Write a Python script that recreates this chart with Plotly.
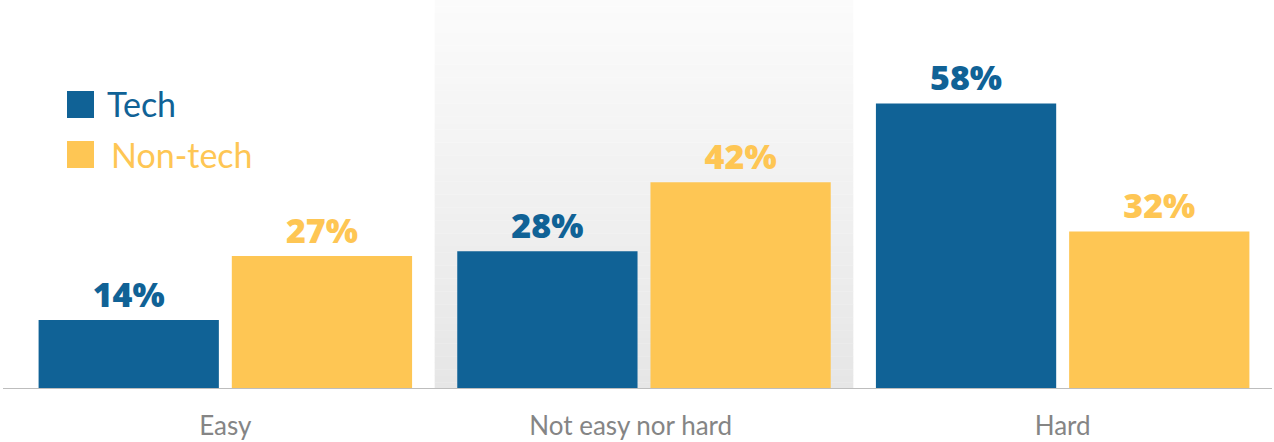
import plotly.graph_objects as go

categories = ["Easy", "Not easy nor hard", "Hard"]
tech = [14, 28, 58]
non_tech = [27, 42, 32]
series_names = ["Tech", "Non-tech"]

BLUE = "#106296"
YELLOW = "#FEC654"

W, H = 1274, 442
ML, MR, MT, MB = 16, 2, 0, 53
PW, PH = W - ML - MR, H - MT - MB
YMAX = 79.0

def px_x(p):
    return (p - ML) / PW

def px_y(p):
    return (H - MB - p) / PH

def mix(c1, c2, t):
    a = [int(c1[i:i + 2], 16) for i in (1, 3, 5)]
    b = [int(c2[i:i + 2], 16) for i in (1, 3, 5)]
    return "#%02x%02x%02x" % tuple(round(a[k] + (b[k] - a[k]) * t) for k in range(3))

xpos = list(range(len(categories)))
# the middle tick label sits slightly left of its category centre in the reference
ticktext = [categories[0], categories[1] + "\u00a0" * 4, categories[2]]

fig = go.Figure()

for name, vals, col in [(series_names[0], tech, BLUE), (series_names[1], non_tech, YELLOW)]:
    fig.add_trace(go.Bar(
        x=xpos, y=vals, name=name, marker=dict(color=col, line=dict(width=0)),
        text=[f"{v}%" for v in vals],
        textposition="outside", cliponaxis=False,
        textfont=dict(family="Open Sans", size=34, color=col, weight=800),
        showlegend=False, hoverinfo="skip",
    ))

# gradient background behind the middle category (stacked strips)
mid = 1
N = 60
for i in range(N):
    t = i / (N - 1)
    fig.add_shape(type="rect", xref="x", yref="y", layer="below",
                  x0=mid - 0.5, x1=mid + 0.5,
                  y0=YMAX * i / N, y1=YMAX * (i + 1) / N + 0.05,
                  fillcolor=mix("#e6e6e6", "#fbfbfb", t), line=dict(width=0))

# custom legend
legend_items = [(series_names[0], BLUE, 91, 104, 105), (series_names[1], YELLOW, 141, 154, 109)]
for name, col, top, cy, tx in legend_items:
    fig.add_shape(type="rect", xref="paper", yref="paper",
                  x0=px_x(67), x1=px_x(94), y0=px_y(top + 27), y1=px_y(top),
                  fillcolor=col, line=dict(width=0))
    fig.add_annotation(text=name, xref="paper", yref="paper",
                       x=px_x(tx), y=px_y(cy), xanchor="left", yanchor="middle",
                       showarrow=False, font=dict(family="Lato", size=34, color=col))

# baseline
fig.add_shape(type="line", xref="paper", yref="y", x0=px_x(3), x1=1.0, y0=0, y1=0,
              line=dict(color="#bdbdbd", width=2), layer="above")

fig.update_layout(
    width=W, height=H,
    margin=dict(l=ML, r=MR, t=MT, b=MB, autoexpand=False),
    paper_bgcolor="white", plot_bgcolor="white",
    barmode="group", bargap=0.077, bargroupgap=0.067,
    xaxis=dict(range=[-0.5, 2.5], tickvals=xpos, ticktext=ticktext,
               showgrid=False, zeroline=False, showline=False, ticks="",
               automargin=False,
               tickfont=dict(family="Lato", size=26, color="#858585"),
               ticklabelstandoff=19),
    yaxis=dict(range=[0, YMAX], visible=False, showgrid=False, zeroline=False,
               automargin=False),
)

fig.write_html("out.html", config={"displayModeBar": False},
               post_script="document.body.style.margin='0';")
